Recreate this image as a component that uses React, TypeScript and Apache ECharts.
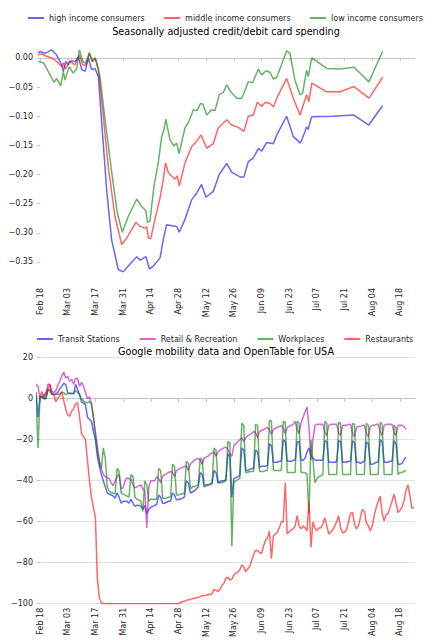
import React, { useEffect, useRef } from "react";
import * as echarts from "echarts";

const FONT = "DejaVu Sans";

// x positions are days counted from Feb 18, 2020
const xTickDays = [0, 14, 28, 42, 56, 70, 84, 98, 112, 126, 140, 154, 168, 182];
const xTickLabels = ["Feb 18", "Mar 03", "Mar 17", "Mar 31", "Apr 14", "Apr 28", "May 12", "May 26", "Jun 09", "Jun 23", "Jul 07", "Jul 21", "Aug 04", "Aug 18"];
const spendTicks = [-0.35, -0.3, -0.25, -0.2, -0.15, -0.1, -0.05, 0];

const spendNames = ["high income consumers", "middle income consumers", "low income consumers"];
const mobilityNames = ["Transit Stations", "Retail & Recreation", "Workplaces", "Restaurants"];

// [day, value]
const highIncome = [
  [-0.9, 0.008], [0, 0.011], [2.5, 0.008], [5.9, 0.014], [8.4, 0.005], [11, -0.012], [11.8, -0.023], [13, -0.006],
  [14.3, -0.012], [15.2, -0.005], [17.7, -0.006], [19.4, 0.002], [21.1, -0.02], [22.8, -0.023], [24.4, 0.0],
  [26.1, -0.02], [27.8, -0.018], [29.5, -0.032], [31.2, -0.111], [33.7, -0.226], [36.2, -0.312], [39.6, -0.363],
  [42.1, -0.367], [44.6, -0.357], [48.9, -0.341], [50.6, -0.347], [53.6, -0.341], [55.3, -0.362], [57.3, -0.357],
  [60.7, -0.343], [62.3, -0.312], [64, -0.286], [69.1, -0.289], [70.4, -0.299], [73.3, -0.277], [76.7, -0.243],
  [79.2, -0.232], [81.7, -0.217], [83.9, -0.239], [87.6, -0.229], [90.6, -0.2], [94.4, -0.181], [96.9, -0.196],
  [101.1, -0.204], [103.1, -0.204], [105.3, -0.178], [107.8, -0.172], [110.4, -0.155], [112.1, -0.16],
  [114.6, -0.145], [118, -0.147], [119.7, -0.132], [124.7, -0.1], [128.1, -0.135], [131.7, -0.146], [134, -0.126],
  [134.8, -0.118], [135.6, -0.123], [137.3, -0.101], [148.3, -0.1], [158.7, -0.098], [166.2, -0.115], [173.2, -0.082],
];
const middleIncome = [
  [-0.9, 0.005], [0.9, 0.007], [3.4, 0.003], [5.9, 0.0], [8.4, -0.006], [11, -0.015], [11.8, -0.008], [13, -0.019],
  [14.8, -0.006], [17.7, -0.012], [19.9, 0.005], [21.6, -0.012], [23.3, -0.012], [24.9, 0.008], [26.4, -0.006],
  [27.8, 0.0], [29.5, -0.018], [32, -0.1], [34.5, -0.186], [37.9, -0.272], [41.3, -0.32], [43.8, -0.309],
  [48.5, -0.282], [50.6, -0.289], [53.1, -0.292], [53.9, -0.289], [54.8, -0.309], [56, -0.31], [58.1, -0.277],
  [60.7, -0.24], [62.3, -0.209], [63.5, -0.18], [64.9, -0.197], [68.3, -0.208], [69.4, -0.202], [70.4, -0.22],
  [73.3, -0.18], [76.7, -0.152], [79.2, -0.143], [81.4, -0.132], [84.3, -0.155], [87.6, -0.147], [90.1, -0.12],
  [94.4, -0.106], [96.9, -0.115], [100.3, -0.119], [103.1, -0.126], [105.3, -0.1], [107.8, -0.098], [109.9, -0.076],
  [112.1, -0.083], [113.8, -0.076], [116.3, -0.078], [118, -0.084], [119.7, -0.069], [124.7, -0.035], [128.1, -0.069],
  [131.5, -0.098], [134.8, -0.063], [136, -0.075], [137.4, -0.043], [145, -0.058], [151.7, -0.058], [158.8, -0.049],
  [166.3, -0.069], [173.3, -0.033],
];
const lowIncome = [
  [-0.9, -0.006], [1.7, -0.008], [5.1, -0.029], [7.1, -0.042], [8.4, -0.035], [10.5, -0.048], [11.8, -0.023],
  [12.6, -0.038], [13.8, -0.025], [14.8, -0.015], [16.8, -0.026], [18.6, -0.018], [19.9, 0.014], [21.6, -0.006],
  [23.3, -0.009], [24.9, 0.009], [26.6, -0.006], [28, 0.0], [30.3, -0.032], [32.9, -0.106], [36.3, -0.197],
  [39.1, -0.266], [41.6, -0.299], [44.6, -0.272], [48.9, -0.242], [51.4, -0.255], [53.1, -0.261], [53.6, -0.263],
  [54.3, -0.282], [55.6, -0.28], [57.6, -0.22], [59.8, -0.18], [61.5, -0.135], [62.7, -0.123], [63.6, -0.105],
  [65.7, -0.14], [67.7, -0.151], [69.1, -0.146], [70.3, -0.164], [73.3, -0.12], [75, -0.111], [77.5, -0.089],
  [79.5, -0.09], [81.2, -0.078], [82.3, -0.079], [84.3, -0.098], [86.8, -0.089], [88.5, -0.09], [90.6, -0.063],
  [92.7, -0.059], [94.4, -0.046], [96.4, -0.058], [99.5, -0.069], [102, -0.069], [102.8, -0.063], [105.3, -0.041],
  [107.6, -0.042], [110.4, -0.019], [112.1, -0.029], [114.3, -0.022], [116.3, -0.025], [118, -0.036], [119.7, -0.033],
  [124.7, 0.012], [126.4, 0.008], [128.9, -0.038], [131.5, -0.063], [132.8, -0.06], [134.8, -0.021], [135.6, -0.032],
  [137.4, 0.0], [145, -0.018], [151.7, -0.019], [158.8, -0.016], [166.3, -0.041], [173.3, 0.012],
];

// Google mobility: daily values starting Sat Feb 15 (day -3); each row is Sat..Fri
const googleStartDay = -3;
const transitStations = [
  3, 3, -9, 1, 1, 0, 0,
  4.5, 4.5, 2.5, 2, 2.5, 3, 5,
  6, 7.5, 7, 3, 2.5, 2.5, 2.5,
  7, 4.5, 2, -1.5, -2, -3, -9,
  -10, -11, -16, -20, -28, -33, -37,
  -40, -43, -46, -46.5, -47, -47.5, -48.5,
  -46, -48, -51, -50, -50, -50, -51,
  -49, -51, -52.5, -52, -52, -52.5, -54,
  -52, -56, -54, -53, -52.5, -52, -51.5,
  -47, -48, -51, -51, -50.5, -50, -50,
  -46, -47, -49.5, -49, -49, -48.5, -48,
  -40, -41, -46, -45.5, -45, -44, -43,
  -36, -37, -43, -42.5, -42, -41.5, -41,
  -35, -36, -41, -40.5, -40, -40, -39.5,
  -27, -28, -48, -39, -38.5, -38, -37.5,
  -24, -25, -35, -35, -34.5, -34, -34,
  -25, -26, -33.5, -33, -33, -33, -32.5,
  -22, -23, -31, -31, -31, -30.5, -30.5,
  -20, -21, -30.5, -30.5, -30.5, -30, -30,
  -21, -21, -30, -30, -29, -26, -24,
  -28, -29, -30, -30, -30, -30, -30,
  -20.5, -21, -31, -31, -31, -31, -30.5,
  -20.5, -21, -31, -31, -31, -30.5, -30.5,
  -20.5, -21.5, -31, -31, -31.5, -31, -30.5,
  -21, -22, -32, -32, -31.5, -31, -31,
  -20, -21, -31, -31, -31, -30.5, -30.5,
  -20.5, -22, -32, -32, -31.5, -30, -28.5,
];
const retailRecreation = [
  7, 7, 6, 0.5, 1, 2, 2,
  7, 7, 3.5, 3, 4, 6.5, 8.5,
  11, 13, 10, 11, 8.5, 9.5, 7,
  10, 10, 6, 8, 6, 3, 0,
  1, -3, -9, -16, -23, -30, -34,
  -37, -38, -38.5, -39, -41, -42.5, -40,
  -38, -37, -44, -43.5, -40, -38.5, -39,
  -39.5, -42, -43.5, -43, -42.5, -42, -44,
  -45, -63, -43, -40, -40, -40, -38,
  -39, -41, -38, -37, -36.5, -36, -35.5,
  -36, -38, -35, -34.5, -34, -33.5, -33,
  -33, -35, -32, -31, -30, -29.5, -29,
  -30, -32, -29, -28.5, -28, -27, -26.5,
  -26, -28, -26, -25, -24.5, -24, -23.5,
  -25, -27, -28, -23, -22, -21, -20,
  -19, -21, -19, -18, -17.5, -17, -16,
  -16.5, -19, -16, -15.5, -15, -14.5, -14,
  -15, -17.5, -15, -14.5, -14, -13.5, -13,
  -14.5, -17, -14, -13.5, -13, -12.5, -11,
  -15, -17, -12, -9, -6.5, -4, -14,
  -30, -20, -13, -12.5, -12.5, -12.5, -12.5,
  -16.5, -18, -13, -12.5, -12.5, -12.5, -12.5,
  -16.5, -18, -13, -13, -13, -12.5, -12.5,
  -17, -18.5, -14, -13.5, -13.5, -13, -13,
  -17, -18.5, -13.5, -13, -13, -12.5, -12.5,
  -16, -18, -13, -12.5, -12.5, -12.5, -12.5,
  -16.5, -18, -13, -13, -13, -13.5, -15,
];
const workplaces = [
  1, 1, -24, 1, 1, 0, 1,
  4, 4, 2, 2, 2, 2, 2.5,
  3, 3, 2, 2.5, 2.5, 2.5, 2.5,
  4, 3, 2, 0, -1, -2, -2,
  -1.5, -2, -9, -18, -26, -31, -34,
  -24, -29, -43, -45, -46, -46, -46.5,
  -34, -35.5, -46, -46.5, -47, -47.5, -48,
  -37, -38, -48, -49, -49.5, -50, -55,
  -40, -42, -50, -49, -49, -49, -49,
  -34, -35, -48.5, -48.5, -48.5, -48, -48,
  -32, -33, -47, -47, -46.5, -46.5, -46,
  -30.5, -31.5, -44, -43, -43, -42.5, -42,
  -29, -29.5, -42, -42, -42, -42, -41.5,
  -24, -25, -41, -41, -41, -40.5, -40,
  -21, -21.5, -72, -41, -40, -39.5, -39,
  -12, -13, -36, -36, -35.5, -35.5, -35.5,
  -12.5, -13, -35.5, -35.5, -35.5, -35, -35,
  -10.5, -11, -35, -35, -35, -35, -35,
  -11, -11.5, -36, -36, -36, -36, -36,
  -11, -12, -36, -36, -36, -37, -56,
  -20, -30, -41, -39, -38, -37.5, -37,
  -11, -12, -37, -37, -37, -37, -37,
  -11.5, -12, -37, -37, -37, -37, -37,
  -12, -12.5, -37, -37, -37, -37, -37,
  -12, -13, -37, -37, -37, -37, -37,
  -11.5, -12.5, -37, -37, -37, -37, -37,
  -13, -14, -37, -36, -36, -35.5, -35,
];
// OpenTable: daily values starting Tue Feb 18 (day 0)
const openTableStartDay = 0;
const restaurants = [
  1, 3.5, 0.5, 3,
  5, 7, 2.5, 2, -1.5, 0, 1.5,
  3.5, -1, -5, -8, -8.5, -6, -5,
  -2.5, -2, -9, -17, -18.5, -20, -30,
  -40, -48, -53, -58, -88, -97, -99.5,
  -100, -100, -100, -100, -100, -100, -100,
  -100, -100, -100, -100, -100, -100, -100,
  -100, -100, -100, -100, -100, -100, -100,
  -100, -100, -100, -100, -100, -100, -100,
  -100, -100, -100, -100, -100, -100, -100,
  -100, -100, -100, -100, -99.5, -99, -98.7,
  -98.5, -98, -98, -97.5, -97.5, -97, -97,
  -96.5, -96, -96, -96, -95.5, -95.5, -95,
  -93, -93.5, -94, -93, -91, -90, -87.5,
  -87, -88.5, -88, -86, -85, -84.5, -83.5,
  -81, -82, -84.5, -83, -82, -79, -76,
  -74, -74, -75, -75.5, -72, -69, -68,
  -64.5, -78, -67, -66, -65, -63, -60,
  -60, -41, -66, -65, -64, -63.5, -62,
  -57, -62, -63.5, -62, -63, -64.5, -50,
  -72.5, -60, -63, -64.5, -63, -63, -61,
  -58, -62, -66, -65, -64, -62, -60,
  -57, -63, -65.5, -65, -64, -60, -56,
  -55.5, -61, -63.5, -62, -58, -54, -55,
  -60.5, -62, -64.5, -62, -57, -53, -50,
  -47.5, -56, -59.5, -56.5, -56, -53, -50,
  -46.5, -51, -55.5, -54.5, -53, -50, -45,
  -42, -47, -53.5, -53,
];

const daily = (start: number, vals: number[]) => vals.map((v, i) => [start + i, v]);

const BLUE = "rgba(0,0,255,0.6)";
const RED = "rgba(255,0,0,0.6)";
const GREEN = "rgba(0,128,0,0.6)";
const MAGENTA = "rgba(191,0,191,0.6)";
const AXIS_GRAY = "#c4c4c4";
const TEXT = "#262626";

const minus = (s: string) => s.replace("-", "\u2212");

function buildOption() {
  const xAxisFor = (gridIndex: number) => ({
    type: "value",
    gridIndex,
    min: -1.52,
    max: 189.6,
    axisLine: { show: true, lineStyle: { color: AXIS_GRAY, width: 1 } },
    axisTick: { show: true, customValues: xTickDays, length: 3, lineStyle: { color: AXIS_GRAY } },
    axisLabel: {
      customValues: xTickDays,
      rotate: 90,
      margin: 4,
      fontSize: 8,
      fontFamily: FONT,
      color: TEXT,
      formatter: (v: number) => {
        const i = xTickDays.indexOf(Math.round(v));
        return i >= 0 ? xTickLabels[i] : "";
      },
    },
    splitLine: { show: false },
  });
  const line = (name: string, data: any, color: string, idx: number) => ({
    type: "line",
    name,
    data,
    xAxisIndex: idx,
    yAxisIndex: idx,
    color,
    showSymbol: false,
    symbol: "none",
    lineStyle: { width: 1.5, color },
    emphasis: { disabled: true },
  });
  const legendFor = (names: string[], top: number, left: number, gap: number) => ({
    data: names,
    top,
    left,
    icon: "rect",
    itemWidth: 16,
    itemHeight: 2,
    itemGap: gap,
    padding: 0,
    selectedMode: false,
    textStyle: { fontSize: 8, fontFamily: FONT, color: TEXT },
  });
  const titleFor = (text: string, top: number) => ({
    text,
    left: 226,
    top,
    textAlign: "center",
    padding: 0,
    textStyle: { fontSize: 9.7, fontWeight: "normal", fontFamily: FONT, color: "#000" },
  });
  return {
    animation: false,
    backgroundColor: "#fff",
    title: [
      titleFor("Seasonally adjusted credit/debit card spending", 26),
      titleFor("Google mobility data and OpenTable for USA", 346.5),
    ],
    legend: [legendFor(spendNames, 14, 28, 19.5), legendFor(mobilityNames, 335, 37, 20)],
    grid: [
      { left: 37, right: 17, top: 37, height: 247 },
      { left: 37, right: 17, top: 357.7, height: 247.3 },
    ],
    xAxis: [xAxisFor(0), xAxisFor(1)],
    yAxis: [
      {
        type: "value",
        gridIndex: 0,
        min: -0.3878,
        max: 0.036,
        axisLine: { show: false },
        axisTick: { show: true, customValues: spendTicks, length: 3, lineStyle: { color: AXIS_GRAY } },
        axisLabel: {
          customValues: spendTicks,
          margin: 4,
          fontSize: 8,
          fontFamily: FONT,
          color: TEXT,
          formatter: (v: number) => (Math.abs(v) < 1e-9 ? "0.00" : minus(v.toFixed(2))),
        },
        splitLine: { show: false },
      },
      {
        type: "value",
        gridIndex: 1,
        min: -100,
        max: 20,
        interval: 20,
        axisLine: { show: false },
        axisTick: { show: true, length: 3, lineStyle: { color: AXIS_GRAY } },
        axisLabel: {
          margin: 4,
          fontSize: 8,
          fontFamily: FONT,
          color: TEXT,
          formatter: (v: number) => minus(String(v)),
        },
        splitLine: { show: true, lineStyle: { color: "#e2e2e2", width: 1 } },
      },
    ],
    series: [
      line(spendNames[0], highIncome, BLUE, 0),
      line(spendNames[1], middleIncome, RED, 0),
      line(spendNames[2], lowIncome, GREEN, 0),
      line(mobilityNames[0], daily(googleStartDay, transitStations), BLUE, 1),
      line(mobilityNames[1], daily(googleStartDay, retailRecreation), MAGENTA, 1),
      line(mobilityNames[2], daily(googleStartDay, workplaces), GREEN, 1),
      line(mobilityNames[3], daily(openTableStartDay, restaurants), RED, 1),
    ],
  };
}

export default function App() {
  const ref = useRef<HTMLDivElement>(null);
  useEffect(() => {
    if (!ref.current) return;
    const chart = echarts.init(ref.current, undefined, { renderer: "svg" });
    chart.setOption(buildOption() as any);
    return () => chart.dispose();
  }, []);
  return (
    <div
      ref={ref}
      style={{ position: "absolute", left: 0, top: 0, width: 432, height: 640, background: "#fff" }}
    />
  );
}
